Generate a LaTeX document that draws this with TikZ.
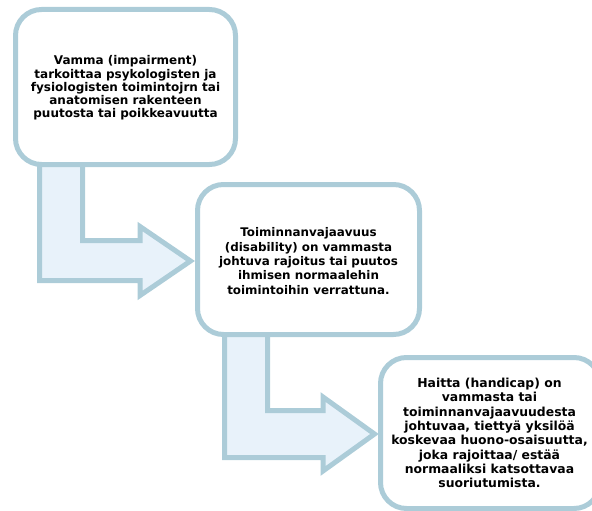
\documentclass[tikz,border=0pt]{standalone}
\usepackage{fontspec}
\setmainfont{DejaVu Sans}
\definecolor{edgeblue}{RGB}{172,204,216}
\definecolor{arrowfill}{RGB}{232,242,250}
\begin{document}
\begin{tikzpicture}[x=1pt,y=-1pt,
  card/.style={draw=edgeblue,line width=5pt,fill=white,rounded corners=26pt},
  bentarrow/.style={draw=edgeblue,line width=5pt,fill=arrowfill,line join=miter},
  txt/.style={align=center,inner sep=0pt}]
\useasboundingbox (0,0) rectangle (592,511);
% arrows (behind)
\draw[bentarrow] (39.5,150) -- (39.5,280.5) -- (140,280.5) -- (140,295.5) -- (190.5,261) -- (140,226.5) -- (140,240.5) -- (82.5,240.5) -- (82.5,150) -- cycle;
\draw[bentarrow] (224.5,320) -- (224.5,457.5) -- (323,457.5) -- (323,471) -- (374.5,434) -- (323,397) -- (323,410.5) -- (267.5,410.5) -- (267.5,320) -- cycle;
% boxes
\draw[card] (15.5,9.5) rectangle (235.5,164.5);
\draw[card] (197.5,184.5) rectangle (419.5,334.5);
\draw[card] (380.5,357.5) rectangle (600,508.5);
\coordinate (c1) at (125.5,88);
\coordinate (c2) at (308.5,261);
\coordinate (c3) at (489.5,433);
\node[txt,font=\bfseries\fontsize{12}{13.2}\selectfont] (t1) at (c1) {Vamma (impairment)\\tarkoittaa psykologisten ja\\fysiologisten toimintojrn tai\\anatomisen rakenteen\\puutosta tai poikkeavuutta};
\node[txt,font=\bfseries\fontsize{11.9}{14.4}\selectfont] (t2) at (c2) {Toiminnanvajaavuus\\(disability) on vammasta\\johtuva rajoitus tai puutos\\ihmisen normaalehin\\toimintoihin verrattuna.};
\node[txt,font=\bfseries\fontsize{12.4}{14.3}\selectfont] (t3) at (c3) {Haitta (handicap) on\\vammasta tai\\toiminnanvajaavuudesta\\johtuvaa, tiettyä yksilöä\\koskevaa huono-osaisuutta,\\joka rajoittaa/ estää\\normaaliksi katsottavaa\\suoriutumista.};
\end{tikzpicture}
\end{document}
